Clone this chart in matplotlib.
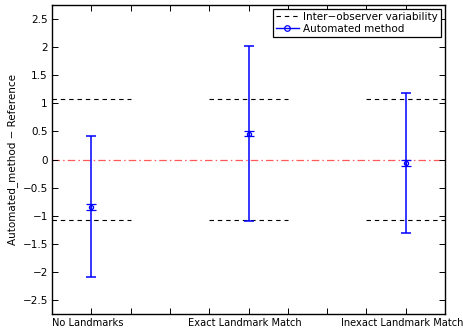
import matplotlib
matplotlib.use("Agg")
import matplotlib.pyplot as plt
from matplotlib.lines import Line2D
from matplotlib.transforms import ScaledTranslation
import numpy as np

categories = ["No Landmarks", "Exact Landmark Match", "Inexact Landmark Match"]
positions = [1, 2, 3]
means = [-0.84, 0.46, -0.06]
errors = [1.255, 1.56, 1.24]
small_err = [0.05, 0.05, 0.05]
inter_observer = 1.08
yticks = [-2.5, -2, -1.5, -1, -0.5, 0, 0.5, 1, 1.5, 2, 2.5]
ytick_labels = ["\u22122.5", "\u22122", "\u22121.5", "\u22121", "\u22120.5", "0", "0.5", "1", "1.5", "2", "2.5"]

plt.rcParams['font.family'] = ['DejaVu Sans']
fig = plt.figure(figsize=(4.63, 3.36), dpi=100)
ax = fig.add_axes([52/463, 22/336, (445-52)/463, (314-5)/336])

ax.axhline(0, color=(1, 0.35, 0.35), linestyle=(0, (6, 2.5, 1.2, 2.5)), linewidth=0.9, zorder=1)

for p in positions:
    for s in (1, -1):
        ax.plot([p - 0.25, p + 0.25], [s * inter_observer] * 2, color='black',
                linestyle=(0, (4, 3.5)), linewidth=0.8, zorder=2)

ax.errorbar(positions, means, yerr=errors, fmt='none', ecolor='blue',
            elinewidth=1.1, capsize=3.3, capthick=1.1, zorder=3)
ax.errorbar(positions, means, yerr=small_err, fmt='o', color='blue', mfc='none',
            ms=3, mew=0.9, elinewidth=1.0, capsize=3.3, capthick=1.1, zorder=4)

ax.set_xlim(0.75, 3.25)
ax.set_ylim(-2.75, 2.75)
xt = np.arange(0.75, 3.2501, 0.25)
ax.set_xticks(xt)
ax.set_xticklabels([categories[positions.index(int(round(v)))] if abs(v - round(v)) < 1e-6 else '' for v in xt])
ax.set_yticks(yticks)
ax.set_yticklabels(ytick_labels)
ax.tick_params(direction='in', top=True, right=True, length=4, width=0.7, labelsize=7.5, pad=3)
ax.tick_params(axis='x', labelsize=7.1)
shift = ScaledTranslation(-4/100, 0, fig.dpi_scale_trans)
for lbl in ax.get_xticklabels():
    lbl.set_transform(lbl.get_transform() + shift)
for sp in ax.spines.values():
    sp.set_linewidth(1.0)
ax.set_ylabel('Automated_method \u2212 Reference', fontsize=7.5, labelpad=3)

handles = [
    Line2D([], [], color='black', linestyle=(0, (4, 3.5)), linewidth=0.8),
    Line2D([], [], color='blue', linestyle='-', linewidth=1.0, marker='o', mfc='none', ms=4, mew=0.9),
]
labels = ['Inter\u2212observer variability', 'Automated method']
leg = ax.legend(handles, labels, loc='upper right', bbox_to_anchor=(441/463, 1 - 9/336),
                bbox_transform=fig.transFigure, fontsize=7.5, frameon=True, fancybox=False,
                edgecolor='black', framealpha=1, borderpad=0.3, labelspacing=0.15,
                handlelength=2.2, handletextpad=0.4, borderaxespad=0)
leg.get_frame().set_linewidth(0.9)

fig.savefig('out.png', dpi=100)
